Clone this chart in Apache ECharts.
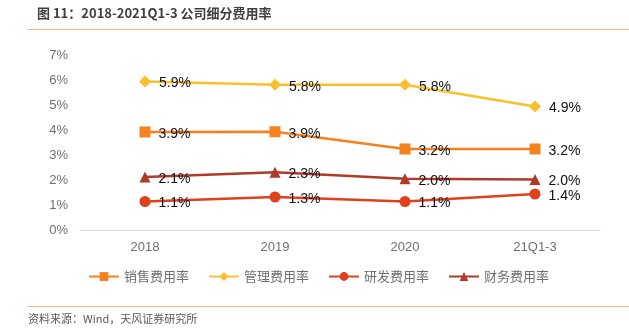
<!DOCTYPE html>
<html>
<head>
<meta charset="utf-8">
<script src="https://cdn.jsdelivr.net/npm/echarts@6/dist/echarts.min.js"></script>
<style>
  html, body { margin: 0; padding: 0; background: #fff; }
  #chart { width: 629px; height: 328px; }
</style>
</head>
<body>
<div id="chart"></div>
<script>
// 年份/期间
const categories = ['2018', '2019', '2020', '21Q1-3'];
// 各项费用率（%）
const salesRate = [3.92, 3.93, 3.24, 3.24];
const adminRate = [5.94, 5.81, 5.81, 4.94];
const rdRate = [1.14, 1.32, 1.14, 1.44];
const financeRate = [2.12, 2.31, 2.05, 2.02];
const yTicks = [0, 1, 2, 3, 4, 5, 6, 7];

const FONT = '"Noto Sans CJK SC", "Liberation Sans", sans-serif';

function makeSeries(name, data, color, symbol, size) {
  return {
    name: name,
    type: 'line',
    data: data,
    symbol: symbol,
    symbolSize: size,
    showAllSymbol: true,
    lineStyle: { color: color, width: 2.5 },
    itemStyle: { color: color },
    label: {
      show: true,
      position: 'right',
      distance: 8,
      offset: [0, 2],
      color: '#111',
      fontSize: 14,
      fontFamily: '"Liberation Sans", Arial, sans-serif',
      formatter: p => p.value.toFixed(1) + '%'
    },
    emphasis: { disabled: true }
  };
}

const chart = echarts.init(document.getElementById('chart'));
chart.setOption({
  animation: false,
  backgroundColor: '#fff',
  graphic: [
    { type: 'text', left: 37, top: 7,
      style: { text: '图 11：2018-2021Q1-3 公司细分费用率', fill: '#3f3f3f',
               font: 'bold 13px ' + FONT } },
    { type: 'rect', shape: { x: 28, y: 29, width: 601, height: 1 },
      style: { fill: '#F4B183' } },
    { type: 'rect', shape: { x: 28, y: 306, width: 601, height: 1 },
      style: { fill: '#F4B183' } },
    { type: 'text', left: 28, top: 313,
      style: { text: '资料来源：Wind，天风证券研究所', fill: '#595959',
               font: '11px ' + FONT } }
  ],
  grid: { left: 80, right: 29, top: 55, bottom: 98 },
  legend: {
    top: 265,
    left: 83,
    itemWidth: 30,
    itemHeight: 11,
    itemGap: 19,
    textStyle: { color: '#707070', fontSize: 13, fontFamily: FONT },
    data: ['销售费用率', '管理费用率', '研发费用率', '财务费用率']
  },
  xAxis: {
    type: 'category',
    data: categories,
    axisLine: { lineStyle: { color: '#d9d9d9', width: 1 } },
    axisTick: { show: false },
    axisLabel: { color: '#707070', fontSize: 13, margin: 11,
                 fontFamily: '"Liberation Sans", Arial, sans-serif' }
  },
  yAxis: {
    type: 'value',
    min: yTicks[0],
    max: yTicks[yTicks.length - 1],
    interval: 1,
    splitLine: { show: false },
    axisLine: { show: false },
    axisTick: { show: false },
    axisLabel: { color: '#707070', fontSize: 13, margin: 12,
                 fontFamily: '"Liberation Sans", Arial, sans-serif',
                 formatter: v => v + '%' }
  },
  series: [
    makeSeries('销售费用率', salesRate, '#F5821F', 'rect', 11),
    makeSeries('管理费用率', adminRate, '#FCC02E', 'diamond', 12),
    makeSeries('研发费用率', rdRate, '#E0401C', 'circle', 11),
    makeSeries('财务费用率', financeRate, '#B03A2A', 'triangle', 11)
  ]
});
</script>
</body>
</html>
